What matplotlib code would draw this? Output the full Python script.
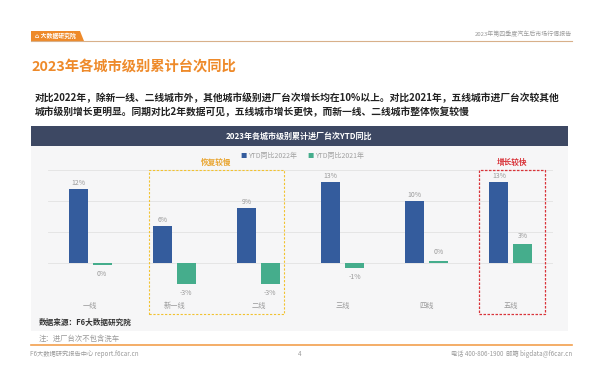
import matplotlib
matplotlib.use("Agg")
import matplotlib.pyplot as plt
from matplotlib.patches import Rectangle, Polygon

plt.rcParams['font.family'] = ['Noto Sans CJK SC', 'DejaVu Sans']

categories = ['一线', '新一线', '二线', '三线', '四线', '五线']
ytd_vs_2022 = [12.0, 6.0, 8.9, 13.0, 10.0, 13.0]
ytd_vs_2021 = [-0.4, -3.4, -3.4, -0.8, 0.3, 3.0]
series_names = ['YTD同比2022年', 'YTD同比2021年']
yticks = [-5, 0, 5, 10, 15]

W, H = 600, 390
fig = plt.figure(figsize=(6, 3.9), dpi=100)
fig.patch.set_facecolor('white')

def fx(x):
    return x / W

def fy(y):
    return 1 - y / H

def rect_px(x0, y0, x1, y1, **kw):
    r = Rectangle((fx(x0), fy(y1)), fx(x1) - fx(x0), fy(y0) - fy(y1),
                  transform=fig.transFigure, **kw)
    fig.add_artist(r)
    return r

ORANGE = '#EE8A2A'
BLUE = '#345C9D'
GREEN = '#45AD8C'
GRAY = '#9A9A9A'

# header
tab = Polygon([(fx(31), fy(31)), (fx(80), fy(31)), (fx(84), fy(41)), (fx(31), fy(41))],
              closed=True, transform=fig.transFigure, facecolor=ORANGE, edgecolor='none')
fig.add_artist(tab)
fig.text(fx(35), fy(36), '⌂ 大数据研究院', color='white', fontsize=4.2, va='center', ha='left',
         fontweight='bold')
fig.add_artist(plt.Line2D([fx(31), fx(572)], [fy(41), fy(41)], transform=fig.transFigure,
                          color='#D8B08A', lw=0.8))
fig.text(fx(572), fy(34), '2023年第四季度汽车后市场行情报告', color='#9A9A9A', fontsize=4.3,
         ha='right', va='center')

# title
fig.text(fx(31), fy(67), '2023年各城市级别累计台次同比', color=ORANGE, fontsize=10.3,
         fontweight='bold', ha='left', va='center')

# paragraph
fig.text(fx(35), fy(98), '对比2022年，除新一线、二线城市外，其他城市级别进厂台次增长均在10%以上。对比2021年，五线城市进厂台次较其他',
         color='#222222', fontsize=7.05, fontweight='bold', ha='left', va='center')
fig.text(fx(35), fy(112), '城市级别增长更明显。同期对比2年数据可见，五线城市增长更快，而新一线、二线城市整体恢复较慢',
         color='#222222', fontsize=7.05, fontweight='bold', ha='left', va='center')

# panel
rect_px(31, 146, 568, 331, facecolor='#F6F6F7', edgecolor='none', zorder=0)
rect_px(31, 126, 568, 146, facecolor='#3D4863', edgecolor='none')
fig.text(fx(299), fy(136), '2023年各城市级别累计进厂台次YTD同比', color='white', fontsize=5.8,
         fontweight='bold', ha='center', va='center')

# axes
ax = fig.add_axes([fx(48), fy(294), fx(553) - fx(48), fy(170) - fy(294)])
ax.set_facecolor('none')
ax.set_xlim(-0.5, len(categories) - 0.5)
ax.set_ylim(-5, 15)
for s in ax.spines.values():
    s.set_visible(False)
ax.set_yticks(yticks)
ax.set_yticklabels([])
ax.tick_params(axis='y', length=0)
ax.grid(axis='y', color='#E2E2E2', lw=0.6)
ax.set_axisbelow(True)
x = list(range(len(categories)))
off = 0.142
bw = 0.226
b1 = ax.bar([i - off for i in x], ytd_vs_2022, width=bw, color=BLUE, label=series_names[0], zorder=3)
b2 = ax.bar([i + off for i in x], ytd_vs_2021, width=bw, color=GREEN, label=series_names[1], zorder=3)
ax.set_xticks(x)
ax.set_xticklabels(categories, fontsize=5.2, color=GRAY)
ax.tick_params(axis='x', length=0, pad=5.5)

def label_bars(bars, vals, up_off, down_off):
    for b, v in zip(bars, vals):
        r = round(v)
        txt = f'{r}%'
        cx = b.get_x() + b.get_width() / 2
        if v >= 0:
            ax.annotate(txt, (cx, v), xytext=(0, up_off), textcoords='offset points',
                        ha='center', va='bottom', fontsize=5, color=GRAY, annotation_clip=False)
        else:
            ax.annotate(txt, (cx, v), xytext=(0, -down_off), textcoords='offset points',
                        ha='center', va='top', fontsize=5, color=GRAY, annotation_clip=False)

label_bars(b1, ytd_vs_2022, 1.5, 3)
label_bars(b2, ytd_vs_2021, 3.5, 3.5)

# legend
fig.text(fx(243), fy(156), '■', color=BLUE, fontsize=4.5, ha='center', va='center')
fig.text(fx(248), fy(156), series_names[0], color='#A0A0A0', fontsize=5, ha='left', va='center')
fig.text(fx(310), fy(156), '■', color=GREEN, fontsize=4.5, ha='center', va='center')
fig.text(fx(315), fy(156), series_names[1], color='#A0A0A0', fontsize=5, ha='left', va='center')

# highlight boxes
rect_px(149, 170, 284, 314, facecolor='none', edgecolor='#F2C230', lw=0.8,
        linestyle=(0, (2, 1.5)), zorder=5)
fig.text(fx(216), fy(162), '恢复较慢', color='#E9A530', fontsize=5.5, ha='center', va='center',
         fontweight='bold')
rect_px(479, 170, 545, 314, facecolor='none', edgecolor='#D9343A', lw=0.9,
        linestyle=(0, (2, 1.2)), zorder=5)
fig.text(fx(512), fy(162), '增长较快', color='#D9343A', fontsize=5.5, ha='center', va='center',
         fontweight='bold')

# source & note
fig.text(fx(39), fy(322), '数据来源：F6大数据研究院', color='#333333', fontsize=5.5,
         fontweight='bold', ha='left', va='center')
fig.text(fx(39), fy(339), '注：进厂台次不包含洗车', color='#999999', fontsize=5.3,
         style='italic', ha='left', va='center')

# footer
fig.add_artist(plt.Line2D([fx(31), fx(572)], [fy(345), fy(345)], transform=fig.transFigure,
                          color='#F2A04E', lw=1.2))
fig.text(fx(30), fy(354), 'F6大数据研究报告中心 report.f6car.cn', color='#9A9A9A', fontsize=4.5,
         ha='left', va='center')
fig.text(fx(300), fy(354), '4', color='#9A9A9A', fontsize=4.5, ha='center', va='center')
fig.text(fx(572), fy(354), '电话 400-806-1900  邮箱 bigdata@f6car.cn', color='#9A9A9A', fontsize=4.5,
         ha='right', va='center')

fig.savefig('out.png', dpi=100, facecolor='white')
